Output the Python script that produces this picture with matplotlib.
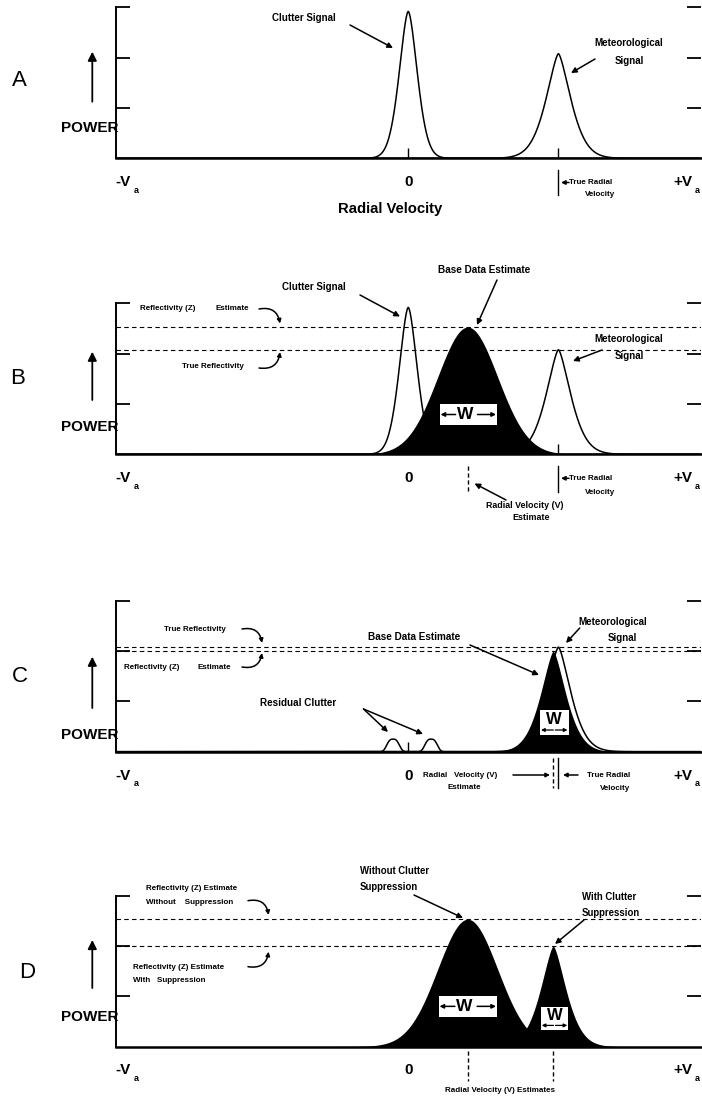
import numpy as np
import matplotlib
matplotlib.use('Agg')
import matplotlib.pyplot as plt
from matplotlib.patches import Rectangle

W, H = 702, 1099
FONT = ['Liberation Sans', 'DejaVu Sans']

# velocity in units of Va (-Va .. +Va -> -1 .. 1), power in tick steps
power_ticks = [1, 2, 3]
true_vel = 0.513

# spectral peaks (centre, height, width, peak sharpness)
peak_names = ['clutter', 'met', 'estimate', 'filtered', 'resid_lo', 'resid_hi']
peak_vel = [0.0, 0.513, 0.203, 0.495, -0.052, 0.078]
peak_pow = [2.92, 2.08, 2.53, 2.00, 0.25, 0.25]
peak_wid = [0.0445, 0.062, 0.145, 0.064, 0.025, 0.025]
peak_exp = [1.7, 1.5, 2.0, 1.5, 3.0, 3.0]

panel_letters = ['A', 'B', 'C', 'D']

# layout (pixels from top of the picture)
LEFT, RIGHT, UNIT = 115.5, 701.0, 50.3
baselines = [158.3, 454.3, 751.7, 1046.5]

vx = np.linspace(-1, 1, 3001)


def peak(name):
    i = peak_names.index(name)
    d = np.abs(vx - peak_vel[i]) / peak_wid[i]
    return peak_pow[i] * np.exp(-d ** peak_exp[i])


def pv(name):
    return peak_vel[peak_names.index(name)]


def pp(name):
    return peak_pow[peak_names.index(name)]


fig = plt.figure(figsize=(W / 100, H / 100), dpi=100)

axes = []
for base in baselines:
    ax = fig.add_axes([LEFT / W, 1 - base / H, (RIGHT - LEFT) / W, 3 * UNIT / H])
    ax.set_xlim(-1, 1)
    ax.set_ylim(0, 3)
    ax.patch.set_alpha(0)
    ax.spines['top'].set_visible(False)
    ax.spines['right'].set_visible(False)
    ax.spines['left'].set_linewidth(1.4)
    ax.spines['bottom'].set_linewidth(1.8)
    ax.set_yticks(power_ticks)
    ax.set_xticks([0, true_vel])
    ax.tick_params(axis='y', direction='in', length=10, width=1.3,
                   left=True, right=True, labelleft=False)
    ax.tick_params(axis='x', direction='in', length=7, width=1.0,
                   labelbottom=False)
    axes.append(ax)

LW = 1.1
DASH = (0, (4, 3))

# --- A
ax = axes[0]
ax.plot(vx, peak('clutter'), 'k', lw=LW)
ax.plot(vx, peak('met'), 'k', lw=LW)

# --- B
ax = axes[1]
ax.fill_between(vx, 0, peak('estimate'), color='k', lw=0)
ax.plot(vx, peak('clutter'), 'k', lw=LW)
ax.plot(vx, peak('met'), 'k', lw=LW)
for lvl in [pp('estimate'), pp('met')]:
    ax.axhline(lvl, color='k', lw=0.8, ls=DASH)

# --- C
ax = axes[2]
ax.fill_between(vx, 0, peak('filtered'), color='k', lw=0)
ax.plot(vx, peak('met'), 'k', lw=LW)
ax.plot(vx, peak('resid_lo'), 'k', lw=LW)
ax.plot(vx, peak('resid_hi'), 'k', lw=LW)
for lvl in [pp('met'), pp('filtered')]:
    ax.axhline(lvl, color='k', lw=0.8, ls=DASH)

# --- D
ax = axes[3]
ax.fill_between(vx, 0, np.maximum(peak('estimate'), peak('filtered')), color='k', lw=0)
for lvl in [pp('estimate'), pp('filtered')]:
    ax.axhline(lvl, color='k', lw=0.8, ls=DASH)

# markers below the velocity axis (offsets in pixels below baseline)
def marker(ax, v, top, bot, style):
    ax.plot([v, v], [-top / UNIT, -bot / UNIT], color='k', lw=1.0,
            ls=style, clip_on=False)

marker(axes[0], pv('met'), 12, 37, '-')
marker(axes[1], pv('estimate'), 12, 38, (0, (3, 2)))
marker(axes[1], pv('met'), 12, 38, '-')
marker(axes[2], pv('filtered'), 6, 36, (0, (3, 2)))
marker(axes[2], pv('met'), 6, 36, '-')
marker(axes[3], pv('estimate'), 4, 34, (0, (3, 2)))
marker(axes[3], pv('filtered'), 4, 34, (0, (3, 2)))

# --- overlay in picture pixels for labels and pointers
ov = fig.add_axes([0, 0, 1, 1], zorder=10)
ov.set_xlim(0, W)
ov.set_ylim(H, 0)
ov.axis('off')


def t(x, y, s, size=7, ha='center', weight='bold'):
    ov.text(x, y, s, fontsize=size, ha=ha, va='center', fontweight=weight,
            family=FONT)


def arrow(x0, y0, x1, y1, rad=0.0, ms=8, lw=1.1):
    ov.annotate('', xy=(x1, y1), xytext=(x0, y0),
                arrowprops=dict(arrowstyle='-|>', color='k', lw=lw,
                                mutation_scale=ms, shrinkA=0, shrinkB=0,
                                connectionstyle='arc3,rad=%s' % rad))


def wbox(x0, y0, w, h, small=False):
    ov.add_patch(Rectangle((x0, y0), w, h, facecolor='white', edgecolor='none'))
    cy = y0 + h / 2
    if small:
        t(x0 + w / 2, y0 + h * 0.36, 'W', size=12)
        arrow(x0 + w / 2 - 1, y0 + h * 0.8, x0 + 1, y0 + h * 0.8, ms=5, lw=0.9)
        arrow(x0 + w / 2 + 1, y0 + h * 0.8, x0 + w - 1, y0 + h * 0.8, ms=5, lw=0.9)
    else:
        t(x0 + w * 0.44, cy, 'W', size=12.5)
        arrow(x0 + w * 0.28, cy, x0 + 1, cy, ms=6, lw=1.1)
        arrow(x0 + w * 0.66, cy, x0 + w - 1, cy, ms=6, lw=1.1)


letter_xy = [(19, 81), (18, 378), (20, 677), (27, 973)]
up_arrow = [(101.7, 51.7), (400, 351.7), (708, 656.7), (988, 940)]
power_y = [128.5, 426.7, 735, 1016.7]

for k, base in enumerate(baselines):
    t(letter_xy[k][0], letter_xy[k][1], panel_letters[k], size=16, weight='normal')
    arrow(92.3, up_arrow[k][0], 92.3, up_arrow[k][1], ms=13, lw=1.3)
    t(118, power_y[k], 'POWER', size=11, ha='right')
    ly = base + 24
    t(115, ly, '-V', size=11, ha='left')
    t(136.5, ly + 8, 'a', size=6.5)
    t(408.3, ly, '0', size=11)
    t(692, ly, '+V', size=11, ha='right')
    t(697.5, ly + 8, 'a', size=6.5)

# A
t(304, 18, 'Clutter Signal', 7)
arrow(350, 25, 393, 48)
t(629, 43, 'Meteorological', 7)
t(629, 61, 'Signal', 7)
arrow(595, 59, 571, 73)
arrow(569, 182.5, 561, 182.5, ms=6)
t(569, 182.5, 'True Radial', 5.8, ha='left')
t(600, 195, 'Velocity', 5.8)
t(390, 209, 'Radial Velocity', 10.7)

# B
t(484, 270, 'Base Data Estimate', 7.2)
arrow(497, 280, 477, 325)
t(314, 287, 'Clutter Signal', 7)
arrow(360, 295, 400, 316.5)
t(168, 308.5, 'Reflectivity (Z)', 5.8)
t(232, 308.5, 'Estimate', 5.8)
arrow(259, 309, 280, 323.5, rad=-0.5, ms=6)
t(213, 367, 'True Reflectivity', 5.8)
arrow(259, 368, 280, 352, rad=0.5, ms=6)
t(629, 339, 'Meteorological', 7)
t(629, 356, 'Signal', 7)
arrow(602, 350, 573, 361)
wbox(439.5, 404, 57.5, 21)
arrow(569, 478.3, 561, 478.3, ms=6)
t(569, 478.3, 'True Radial', 5.8, ha='left')
t(600, 492, 'Velocity', 5.8)
t(525, 505, 'Radial Velocity (V)', 6.4)
t(531.5, 518, 'Estimate', 6.4)
arrow(506, 500, 474.5, 483.5)

# C
t(194.5, 629.5, 'True Reflectivity', 5.8)
arrow(242, 629, 262, 643, rad=-0.5, ms=6)
t(152, 667.5, 'Reflectivity (Z)', 5.8)
t(214, 667.5, 'Estimate', 5.8)
arrow(242, 667, 262, 653, rad=0.5, ms=6)
t(414, 636.7, 'Base Data Estimate', 7.2)
arrow(470, 645, 539, 675)
t(613, 621.7, 'Meteorological', 7)
t(622, 638, 'Signal', 7)
arrow(579.7, 628, 566, 643)
t(297.7, 702.7, 'Residual Clutter', 7.1)
arrow(363.5, 709, 388, 732)
arrow(363.5, 709, 423, 734)
wbox(540, 710, 28.5, 25, small=True)
t(423, 775.5, 'Radial   Velocity (V)', 5.8, ha='left')
t(464, 787.5, 'Estimate', 5.8)
arrow(513, 775, 550, 775, ms=6)
arrow(578, 775, 563, 775, ms=6)
t(587, 775.5, 'True Radial', 5.8, ha='left')
t(615.5, 788, 'Velocity', 5.8)

# D
t(145.5, 888, 'Reflectivity (Z) Estimate', 5.8, ha='left')
t(145.5, 902.7, 'Without    Suppression', 5.8, ha='left')
arrow(248, 900.7, 268.6, 915, rad=-0.5, ms=6)
t(133, 967.7, 'Reflectivity (Z) Estimate', 5.8, ha='left')
t(133, 981, 'With   Suppression', 5.8, ha='left')
arrow(248, 966.7, 268.6, 951.7, rad=0.5, ms=6)
t(360, 870.7, 'Without Clutter', 6.9, ha='left')
t(360, 886.7, 'Suppression', 6.9, ha='left')
arrow(414, 895, 463, 918)
t(582, 897, 'With Clutter', 6.9, ha='left')
t(582, 913, 'Suppression', 6.9, ha='left')
arrow(584, 920, 555, 944)
wbox(438.5, 996, 58.5, 20.7)
wbox(540.7, 1007, 27.6, 23, small=True)
t(500, 1090, 'Radial Velocity (V) Estimates', 5.8)

fig.savefig('out.png', dpi=100)
